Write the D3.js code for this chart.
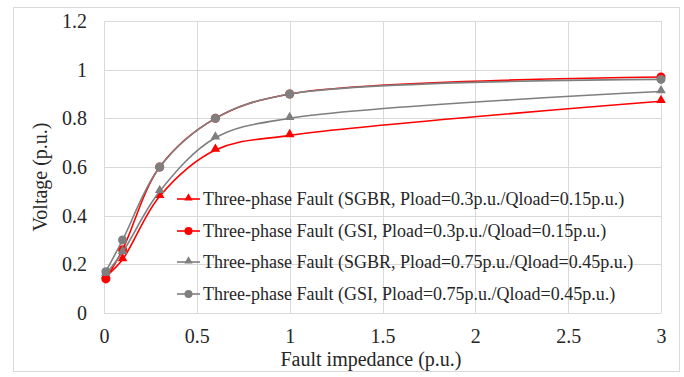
<!DOCTYPE html>
<html>
<head>
<meta charset="utf-8">
<script src="https://cdn.jsdelivr.net/npm/d3@7"></script>
<style>
  body { margin: 0; background: #fff; }
  svg text { font-family: "Liberation Serif", "Times New Roman", serif; fill: #262626; }
</style>
</head>
<body>
<div id="chart"></div>
<script>
// fault impedance values (p.u.)
let faultZ = [0.01, 0.1, 0.3, 0.6, 1, 3];

// voltage for each case (p.u.)
let sgbrLight = [0.15, 0.22, 0.48, 0.67, 0.73, 0.87];
let gsiLight = [0.14, 0.26, 0.60, 0.80, 0.90, 0.97];
let sgbrHeavy = [0.16, 0.25, 0.50, 0.72, 0.80, 0.91];
let gsiHeavy = [0.17, 0.30, 0.60, 0.80, 0.90, 0.96];

let seriesNames = [
  "Three-phase Fault (SGBR, Pload=0.3p.u./Qload=0.15p.u.)",
  "Three-phase Fault (GSI, Pload=0.3p.u./Qload=0.15p.u.)",
  "Three-phase Fault (SGBR, Pload=0.75p.u./Qload=0.45p.u.)",
  "Three-phase Fault (GSI, Pload=0.75p.u./Qload=0.45p.u.)"
];

let xTicks = [0, 0.5, 1, 1.5, 2, 2.5, 3];
let yTicks = [0, 0.2, 0.4, 0.6, 0.8, 1, 1.2];

let width = 684;
let height = 377;
let margin = {left: 104, right: 23, top: 21, bottom: 64};

let series = [
  {name: seriesNames[0], values: sgbrLight, color: "#ff0000", shape: "tri"},
  {name: seriesNames[1], values: gsiLight, color: "#ff0000", shape: "circle"},
  {name: seriesNames[2], values: sgbrHeavy, color: "#7f7f7f", shape: "tri"},
  {name: seriesNames[3], values: gsiHeavy, color: "#7f7f7f", shape: "circle"}
];

let x = d3.scaleLinear().domain([0, 3]).range([margin.left, width - margin.right]);
let y = d3.scaleLinear().domain([0, 1.2]).range([height - margin.bottom, margin.top]);

let svg = d3.select("#chart").append("svg")
  .attr("width", width)
  .attr("height", height);

// outer chart border
svg.append("rect")
  .attr("x", 13.5).attr("y", 7.5)
  .attr("width", 666).attr("height", 364)
  .attr("fill", "none")
  .attr("stroke", "#d9d9d9");

// gridlines
svg.append("g")
  .selectAll("line")
  .data(yTicks)
  .enter().append("line")
  .attr("x1", x(0)).attr("x2", x(3))
  .attr("y1", d => Math.round(y(d)) + 0.5)
  .attr("y2", d => Math.round(y(d)) + 0.5)
  .attr("stroke", "#d9d9d9");

svg.append("g")
  .selectAll("line")
  .data(xTicks)
  .enter().append("line")
  .attr("y1", y(0)).attr("y2", y(1.2))
  .attr("x1", d => Math.round(x(d)) + 0.5)
  .attr("x2", d => Math.round(x(d)) + 0.5)
  .attr("stroke", "#d9d9d9");

// axes (labels only, no domain/ticks)
let xAxis = svg.append("g")
  .attr("transform", "translate(0," + y(0) + ")")
  .call(d3.axisBottom(x).tickValues(xTicks).tickSize(0).tickPadding(16).tickFormat(d3.format("")));
xAxis.attr("font-family", null).attr("font-size", null);
xAxis.select(".domain").remove();
xAxis.selectAll("text").style("font-size", "20px");

let yAxis = svg.append("g")
  .attr("transform", "translate(" + (x(0) - 17) + ",0)")
  .call(d3.axisLeft(y).tickValues(yTicks).tickSize(0).tickPadding(0).tickFormat(d3.format("")));
yAxis.attr("font-family", null).attr("font-size", null);
yAxis.select(".domain").remove();
yAxis.selectAll("text").style("font-size", "20px");

// axis titles
svg.append("text")
  .attr("x", 371).attr("y", 366)
  .attr("text-anchor", "middle")
  .style("font-size", "20px")
  .text("Fault impedance (p.u.)");

svg.append("text")
  .attr("transform", "translate(47,177) rotate(-90)")
  .attr("text-anchor", "middle")
  .style("font-size", "20px")
  .text("Voltage (p.u.)");

// lines
let line = d3.line()
  .x((d, i) => x(faultZ[i]))
  .y(d => y(d))
  .curve(d3.curveCatmullRom.alpha(0.5));

function drawMarker(g, shape, color, cx, cy, small) {
  if (shape == "tri") {
    g.append("path")
      .attr("d", d3.symbol().type(d3.symbolTriangle).size(small ? 30 : 40)())
      .attr("transform", "translate(" + cx + "," + (cy - 1) + ")")
      .attr("fill", color);
  } else {
    g.append("circle")
      .attr("cx", cx).attr("cy", cy)
      .attr("r", small ? 4 : 4.5)
      .attr("fill", color);
  }
}

series.forEach(s => {
  let g = svg.append("g");
  g.append("path")
    .attr("d", line(s.values))
    .attr("fill", "none")
    .attr("stroke", s.color)
    .attr("stroke-width", 1.6);
  s.values.forEach((v, i) => {
    drawMarker(g, s.shape, s.color, x(faultZ[i]), y(v), false);
  });
});

// legend (no background, grid shows through)
let legendY = [199, 231, 262, 294];
let legend = svg.append("g");
series.forEach((s, i) => {
  let ly = legendY[i];
  legend.append("line")
    .attr("x1", 177).attr("x2", 200)
    .attr("y1", ly).attr("y2", ly)
    .attr("stroke", s.color)
    .attr("stroke-width", 1.6);
  drawMarker(legend, s.shape, s.color, 188.5, ly, true);
  legend.append("text")
    .attr("x", 203).attr("y", ly)
    .attr("dy", "0.35em")
    .style("font-size", "18px")
    .text(s.name);
});
</script>
</body>
</html>
